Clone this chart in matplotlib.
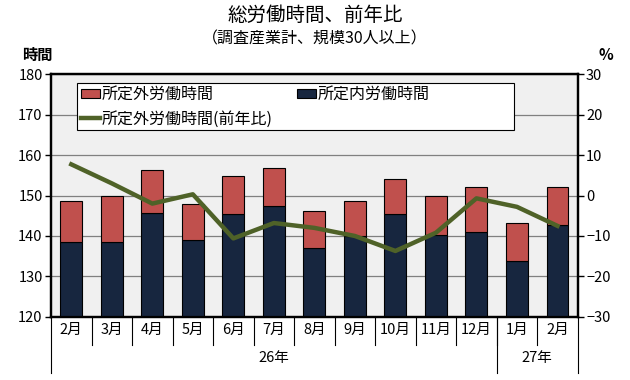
import matplotlib.pyplot as plt
import matplotlib.patches as mpatches
from matplotlib.lines import Line2D
import numpy as np

plt.rcParams['font.family'] = ['Noto Sans CJK JP', 'DejaVu Sans']

# data
months = ['2月', '3月', '4月', '5月', '6月', '7月', '8月', '9月', '10月', '11月', '12月', '1月', '2月']
years = ['26年', '27年']
year_spans = [(0, 10), (11, 12)]
shotei_nai = [138.4, 138.5, 145.8, 138.9, 145.5, 147.5, 137.1, 139.9, 145.5, 140.2, 141.1, 133.7, 142.6]
shotei_gai = [10.3, 11.5, 10.6, 9.1, 9.2, 9.4, 9.1, 8.8, 8.7, 9.6, 10.9, 9.4, 9.4]
gai_yoy = [7.7, 3.0, -2.0, 0.3, -10.6, -6.8, -8.0, -10.0, -13.7, -9.2, -0.7, -2.8, -7.5]

red = '#C0504D'
navy = '#17263F'
green = '#4F6228'

fig = plt.figure(figsize=(6.3, 3.8), dpi=100)
ax = fig.add_axes([0.081, 0.166, 0.836, 0.639])
ax.set_facecolor('#F0F0F0')

x = np.arange(len(months))
ax.bar(x, shotei_nai, width=0.54, color=navy, edgecolor='black', linewidth=0.8, zorder=3)
ax.bar(x, shotei_gai, width=0.54, bottom=shotei_nai, color=red, edgecolor='black', linewidth=0.8, zorder=3)

ax.set_ylim(120, 180)
ax.set_yticks(range(120, 181, 10))
ax.set_xlim(-0.5, len(months) - 0.5)
ax.grid(axis='y', color='#808080', linewidth=0.9, zorder=1)
ax.tick_params(axis='y', labelsize=10.5, length=4, width=1, pad=2)
for s in ax.spines.values():
    s.set_linewidth(1.6)

ax2 = ax.twinx()
ax2.plot(x, gai_yoy, color=green, linewidth=3.2, zorder=5)
ax2.set_ylim(-30, 30)
ax2.set_yticks(range(-30, 31, 10))
ax2.set_yticklabels([str(v).replace('-', '\u2212') for v in range(-30, 31, 10)])
ax2.tick_params(axis='y', labelsize=10.5, length=4, width=1, pad=2)
for s in ax2.spines.values():
    s.set_linewidth(1.6)

# category table under the axis
ax.set_xticks(x)
ax.set_xticklabels(months, fontsize=10.5)
ax.tick_params(axis='x', length=0, pad=4)
trans = ax.get_xaxis_transform()
for i in range(len(months) - 1):
    ax.plot([i + 0.5, i + 0.5], [0, -0.115], color='black', linewidth=0.8, transform=trans, clip_on=False)
for b in [-0.5, 10.5, 12.5]:
    ax.plot([b, b], [0, -0.232], color='black', linewidth=0.8, transform=trans, clip_on=False)
for (a, b), yl in zip(year_spans, years):
    ax.text((a + b) / 2, -0.168, yl, transform=trans, ha='center', va='center', fontsize=10.5)

# legend: frame drawn by hand so it matches the reference box
frame = mpatches.Rectangle((0.049, 0.77), 0.83, 0.193, transform=ax2.transAxes,
                           facecolor='white', edgecolor='black', linewidth=0.8, zorder=6)
ax2.add_patch(frame)
h_gai = mpatches.Patch(facecolor=red, edgecolor='black', linewidth=0.8)
h_nai = mpatches.Patch(facecolor=navy, edgecolor='black', linewidth=0.8)
h_line = Line2D([], [], color=green, linewidth=3.2)
h_blank = mpatches.Patch(alpha=0)
leg = ax2.legend([h_gai, h_line, h_nai, h_blank],
                 ['所定外労働時間', '所定外労働時間(前年比)', '所定内労働時間', ''],
                 ncol=2, loc='upper left', bbox_to_anchor=(0.052, 0.96),
                 fontsize=11.5, frameon=False, borderpad=0.15, labelspacing=0.45,
                 handlelength=1.2, handleheight=0.5, handletextpad=0.1,
                 columnspacing=1.5, borderaxespad=0)
leg.set_zorder(7)

fig.text(0.5, 0.96, '総労働時間、前年比', ha='center', va='center', fontsize=14)
fig.text(0.5, 0.897, '（調査産業計、規模30人以上）', ha='center', va='center', fontsize=11.5)
fig.text(0.059, 0.855, '時間', ha='center', va='center', fontsize=11, fontweight='bold')
fig.text(0.962, 0.855, '%', ha='center', va='center', fontsize=11, fontweight='bold')

fig.savefig('out.png', dpi=100)
